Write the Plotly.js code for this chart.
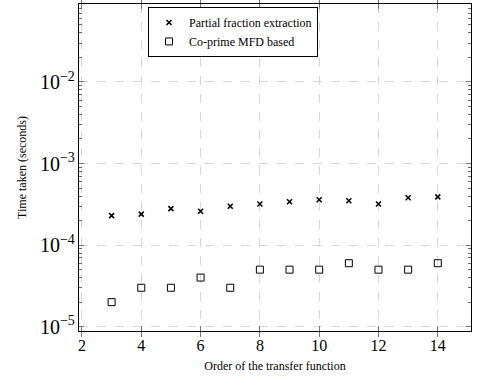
<!DOCTYPE html>
<html>
<head>
<meta charset="utf-8">
<script src="https://cdn.plot.ly/plotly-3.0.1.min.js"></script>
<style>html,body{margin:0;padding:0;background:#fff;}#chart{width:477px;height:381px;}</style>
</head>
<body>
<div id="chart"></div>
<script>
const orders = [3, 4, 5, 6, 7, 8, 9, 10, 11, 12, 13, 14];
const partialFraction = [2.3e-4, 2.4e-4, 2.8e-4, 2.6e-4, 3.0e-4, 3.2e-4, 3.4e-4, 3.6e-4, 3.5e-4, 3.2e-4, 3.8e-4, 3.9e-4];
const coprimeMFD = [2e-5, 3e-5, 3e-5, 4e-5, 3e-5, 5e-5, 5e-5, 5e-5, 6e-5, 5e-5, 5e-5, 6e-5];
const xTicks = [2, 4, 6, 8, 10, 12, 14];
const decades = [-6, -5, -4, -3, -2];

const minorVals = [];
decades.forEach(d => { for (let k = 2; k <= 9; k++) minorVals.push(k * Math.pow(10, d)); });

const font = 'Liberation Serif';
const yRange = [-5.053, -1.044];
const traces = [
  {x: orders, y: partialFraction, mode: 'markers', type: 'scatter', name: 'Partial fraction extraction',
   marker: {symbol: 'x-thin', size: 5, color: 'black', line: {color: 'black', width: 1.5}}},
  {x: orders, y: coprimeMFD, yaxis: 'y2', mode: 'markers', type: 'scatter', name: 'Co-prime MFD based',
   marker: {symbol: 'square-open', size: 7, color: 'black', line: {color: 'black', width: 1}}}
];
const layout = {
  width: 477, height: 381,
  margin: {l: 79, r: 6, t: 4, b: 50},
  paper_bgcolor: '#fff', plot_bgcolor: '#fff',
  font: {family: font, color: '#000'},
  showlegend: true,
  legend: {x: 0.176, y: 0.991, xanchor: 'left', yanchor: 'top', bordercolor: '#000', borderwidth: 1,
           bgcolor: '#fff', font: {family: font, size: 12}, tracegroupgap: 0, itemwidth: 30},
  xaxis: {
    range: [1.9, 15.12], tickvals: xTicks, ticktext: xTicks.map(String),
    ticks: 'inside', ticklen: 5, tickcolor: '#777', mirror: 'allticks',
    showline: true, linecolor: '#000', linewidth: 1,
    showgrid: true, gridcolor: '#d6d6d6', griddash: 'dash', gridwidth: 1,
    zeroline: false,
    tickfont: {family: font, size: 16},
    title: {text: 'Order of the transfer function', font: {family: font, size: 12}, standoff: 8}
  },
  yaxis: {
    type: 'log', range: yRange, tickmode: 'linear', tick0: 0, dtick: 1, exponentformat: 'power',
    ticks: 'inside', ticklen: 5, tickcolor: '#777', mirror: 'allticks',
    showline: true, linecolor: '#000', linewidth: 1,
    showgrid: true, gridcolor: '#d6d6d6', griddash: 'dash', gridwidth: 1,
    zeroline: false,
    tickfont: {family: font, size: 16},
    title: {text: 'Time taken (seconds)', font: {family: font, size: 12}, standoff: 10}
  },
  yaxis2: {
    type: 'log', range: yRange, overlaying: 'y', anchor: 'x', side: 'left',
    tickmode: 'array', tickvals: minorVals, ticktext: minorVals.map(() => ''), showticklabels: false,
    ticks: 'inside', ticklen: 3, tickwidth: 1, tickcolor: '#666', mirror: 'allticks',
    showline: false, showgrid: false, zeroline: false
  }
};
Plotly.newPlot('chart', traces, layout, {staticPlot: true, displayModeBar: false});
</script>
</body>
</html>
